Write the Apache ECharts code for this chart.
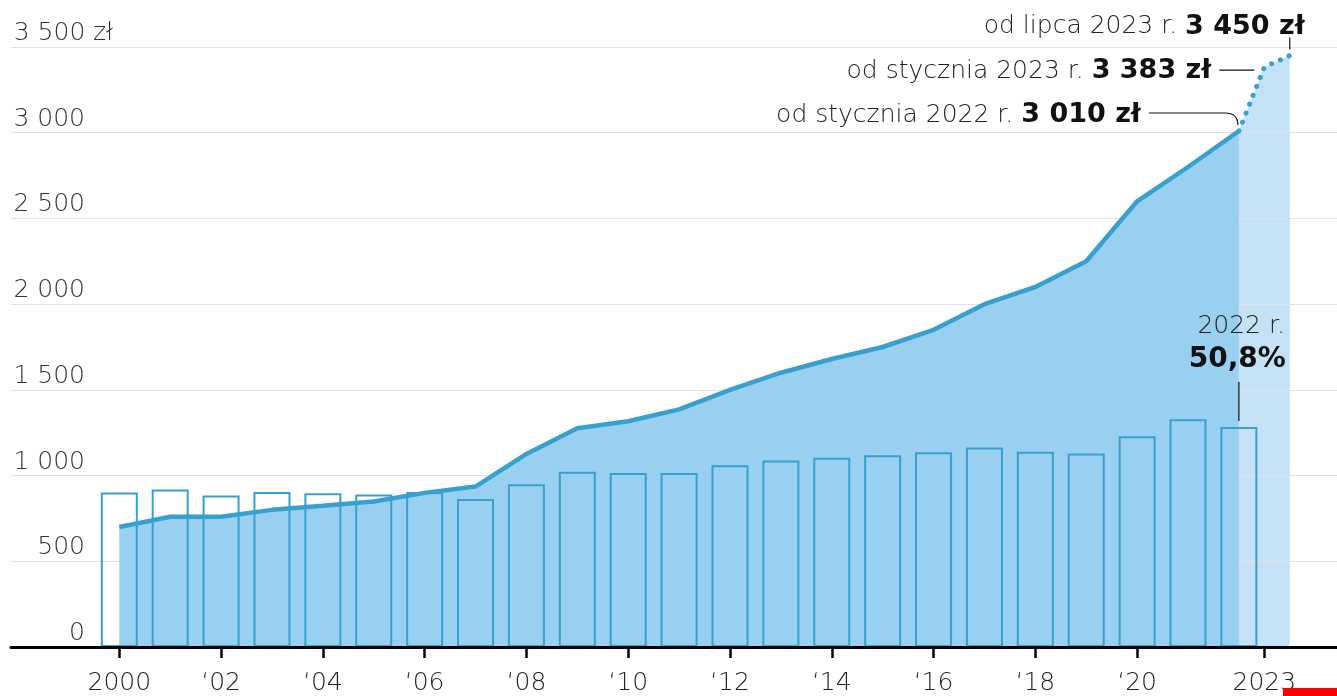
<!DOCTYPE html>
<html><head><meta charset="utf-8">
<script src="https://cdn.jsdelivr.net/npm/echarts@6/dist/echarts.min.js"></script>
<style>html,body{margin:0;padding:0;background:#fff}#c{width:1337px;height:696px}</style>
</head><body><div id="c"></div>
<script>
// ---- data ----
const years = [2000,2001,2002,2003,2004,2005,2006,2007,2008,2009,2010,2011,2012,2013,2014,2015,2016,2017,2018,2019,2020,2021,2022];
const minWage = [700,760,760,800,824,849,899.1,936,1126,1276,1317,1386,1500,1600,1680,1750,1850,2000,2100,2250,2600,2800,3010];
const ratioPct = [35.7,36.4,35.0,35.8,35.5,35.2,35.8,34.2,37.6,40.5,40.2,40.2,42.0,43.1,43.7,44.3,45.0,46.1,45.1,44.7,48.7,52.6,50.8];
// forecast: Jan 2022, Jan 2023, Jul 2023 (time in years since 2000)
const forecastTime = [22, 22.5, 23];
const forecastWage = [3010, 3383, 3450];
const xTickTime = [0,2,4,6,8,10,12,14,16,18,20,22.5];
const xTickLabels = ['2000','\u201802','\u201804','\u201806','\u201808','\u201810','\u201812','\u201814','\u201816','\u201818','\u201820','2023'];
const yTicks = [0,500,1000,1500,2000,2500,3000,3500];
const noteJul23 = ['od lipca 2023 r. ', '3 450 zł'];
const noteJan23 = ['od stycznia 2023 r. ', '3 383 zł'];
const noteJan22 = ['od stycznia 2022 r. ', '3 010 zł'];
const noteRatio = ['2022 r.', '50,8%'];

const FONT = '"DejaVu Sans", Lato, sans-serif';
const LW = 200;      // light weight
const FS = 25;       // base font size
const lineColor = '#37a0cf';
const areaColor = '#99cfef';
const lightArea = '#c5e1f6';

const t0 = years[0];
const mainData = years.map((y, i) => [y - t0, minWage[i]]);
const barData = years.map((y, i) => [y - t0, ratioPct[i]]);
const fcData = forecastTime.map((t, i) => [t, forecastWage[i]]);
const fmt = v => String(v).replace(/\B(?=(\d{3})+(?!\d))/g, ' ');

const chart = echarts.init(document.getElementById('c'));
chart.setOption({
  animation: false,
  textStyle: { fontFamily: FONT },
  grid: { left: 11, right: 0, top: 47, bottom: 48, containLabel: false },
  xAxis: {
    type: 'value', min: -2.128, max: 23.928, z: 10,
    splitLine: { show: false },
    axisLine: { show: true, onZero: false, lineStyle: { color: '#000', width: 3 } },
    axisTick: { show: true, customValues: xTickTime, length: 11, lineStyle: { color: '#000', width: 2.5 } },
    axisLabel: {
      customValues: xTickTime, margin: 24, color: '#222', fontSize: FS, fontWeight: LW, fontFamily: FONT,
      formatter: v => { const i = xTickTime.indexOf(v); return i >= 0 ? xTickLabels[i] : ''; }
    }
  },
  yAxis: [{
    type: 'value', min: yTicks[0], max: yTicks[yTicks.length - 1], interval: 500, z: 0,
    axisLine: { show: false }, axisTick: { show: false },
    splitLine: { lineStyle: { color: '#e2e2e2', width: 1 } },
    axisLabel: {
      inside: true, margin: 3, verticalAlign: 'bottom', align: 'left', padding: [0, 0, 1, 0],
      formatter: v => v === yTicks[yTicks.length - 1] ? '{n|' + fmt(v) + '}{z| zł}' : '{n|' + fmt(v) + '}',
      rich: {
        n: { width: 71, align: 'right', fontSize: FS, fontWeight: LW, color: '#333', fontFamily: FONT },
        z: { fontSize: FS, fontWeight: LW, color: '#333', fontFamily: FONT }
      }
    }
  }, {
    type: 'value', min: 0, max: 138.6, show: false, splitLine: { show: false }
  }],
  series: [
    { type: 'line', name: 'forecastArea', data: fcData, z: -1, symbol: 'none', silent: true,
      lineStyle: { width: 0 }, areaStyle: { color: lightArea, opacity: 1 } },
    { type: 'line', name: 'wage', data: mainData, z: 2, symbol: 'none',
      lineStyle: { color: lineColor, width: 4.5 }, areaStyle: { color: areaColor, opacity: 1 } },
    { type: 'bar', name: 'ratio', data: barData, yAxisIndex: 1, barWidth: 37, z: 3,
      itemStyle: { color: 'rgba(0,0,0,0)', borderColor: lineColor, borderWidth: 2 } },
    { type: 'line', name: 'forecast', data: fcData, z: 4, symbol: 'none',
      lineStyle: { color: lineColor, width: 5, type: [0.1, 9.5], cap: 'round' } }
  ]
});

// ---- annotations anchored to data ----
const px = (x, y, yi) => chart.convertToPixel({ xAxisIndex: 0, yAxisIndex: yi || 0 }, [x, y]);
const pJul = px(forecastTime[2], forecastWage[2]);
const pJan23 = px(forecastTime[1], forecastWage[1]);
const pJan22 = px(forecastTime[0], forecastWage[0]);
const pBar = px(years[years.length - 1] - t0, ratioPct[ratioPct.length - 1], 1);

const BOLD = '"DejaVu Sans", sans-serif';
const richNote = {
  a: { fontFamily: FONT, fontSize: FS, fontWeight: LW, fill: '#222', color: '#222' },
  b: { fontFamily: BOLD, fontSize: 27, fontWeight: 'bold', fill: '#111', color: '#111' }
};
const note = (parts, x, y) => ({
  type: 'text', x: x, y: y, silent: true, z: 100,
  style: { text: '{a|' + parts[0] + '}{b|' + parts[1] + '}', rich: richNote, align: 'right', verticalAlign: 'middle' }
});
const ln = { stroke: '#111', lineWidth: 1.2, fill: null };

chart.setOption({
  graphic: [
    note(noteJul23, pJul[0] + 15, pJul[1] - 29),
    { type: 'line', silent: true, z: 100, shape: { x1: pJul[0], y1: pJul[1] - 18, x2: pJul[0], y2: pJul[1] - 6 }, style: ln },
    note(noteJan23, pJan23[0] - 53, pJan23[1] + 4),
    { type: 'line', silent: true, z: 100, shape: { x1: pJan23[0] - 45, y1: pJan23[1] + 3, x2: pJan23[0] - 10, y2: pJan23[1] + 3 }, style: ln },
    note(noteJan22, pJan22[0] - 98, pJan22[1] - 16),
    { type: 'line', silent: true, z: 100, shape: { x1: pJan22[0] - 90, y1: pJan22[1] - 18, x2: pJan22[0] - 14, y2: pJan22[1] - 18 }, style: ln },
    { type: 'bezierCurve', silent: true, z: 100,
      shape: { x1: pJan22[0] - 14, y1: pJan22[1] - 18, cpx1: pJan22[0] - 1, cpy1: pJan22[1] - 18, x2: pJan22[0] - 1, y2: pJan22[1] - 6 },
      style: ln },
    { type: 'text', silent: true, z: 100, x: pBar[0] + 46, y: pBar[1] - 101,
      style: { text: noteRatio[0], fontFamily: FONT, fontSize: FS, fontWeight: LW, fill: '#222', align: 'right', verticalAlign: 'middle' } },
    { type: 'text', silent: true, z: 100, x: pBar[0] + 47, y: pBar[1] - 67,
      style: { text: noteRatio[1], fontFamily: BOLD, fontSize: 28, fontWeight: 'bold', fill: '#111', align: 'right', verticalAlign: 'middle' } },
    { type: 'line', silent: true, z: 100, shape: { x1: pBar[0], y1: pBar[1] - 45, x2: pBar[0], y2: pBar[1] - 6 }, style: ln },
    { type: 'rect', silent: true, z: 100, shape: { x: 1283, y: 688, width: 54, height: 8 }, style: { fill: '#ff0000' } }
  ]
});
</script></body></html>
